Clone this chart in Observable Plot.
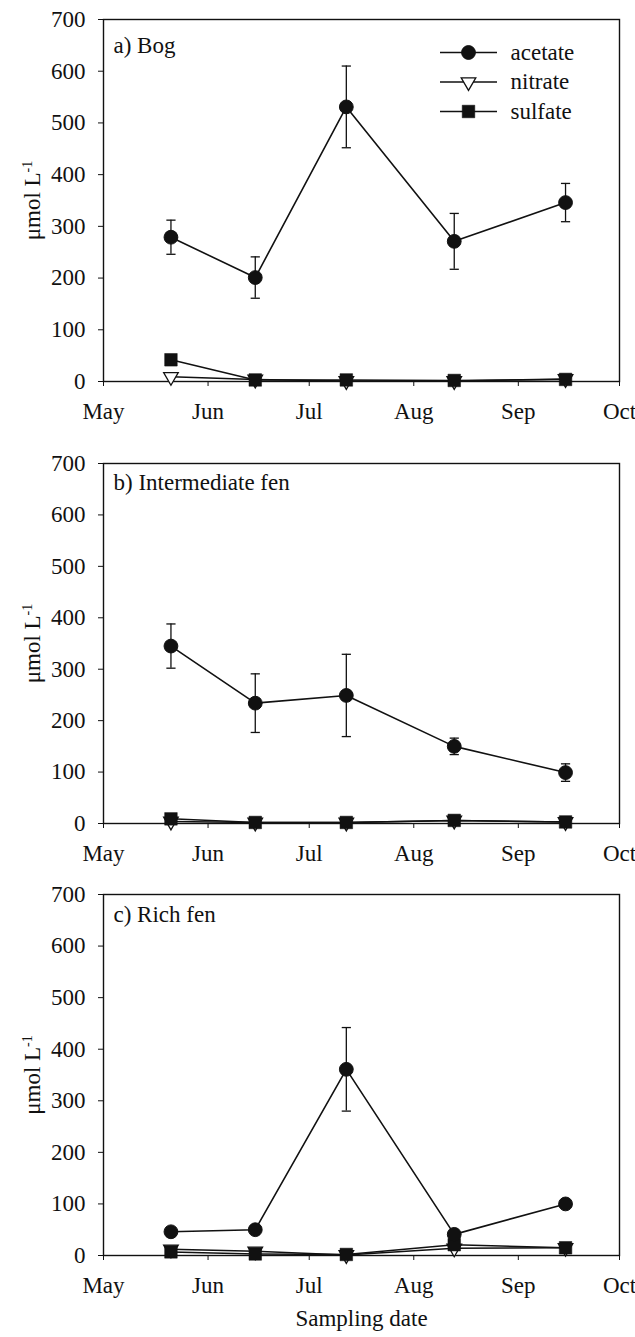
<!DOCTYPE html>
<html><head><meta charset="utf-8">
<script src="https://cdn.jsdelivr.net/npm/d3@7"></script>
<script src="https://cdn.jsdelivr.net/npm/@observablehq/plot@0.6"></script>
<style>
body{margin:0;background:#fff;}
#chart{width:635px;}
#chart svg{display:block;font-family:"Liberation Serif",serif;}
</style></head><body><div id="chart"></div>
<script>
// ---- data ----
const dates = ["2003-05-21","2003-06-15","2003-07-12","2003-08-13","2003-09-15"];
const monthTicks = ["2003-05-01","2003-06-01","2003-07-01","2003-08-01","2003-09-01","2003-10-01"];
const monthLabels = ["May","Jun","Jul","Aug","Sep","Oct"];
const yTicks = [0,100,200,300,400,500,600,700];
const seriesNames = ["acetate","nitrate","sulfate"];
const panelTitles = ["a) Bog","b) Intermediate fen","c) Rich fen"];
const yLabel = "μmol L";
const yLabelSup = "-1";
const xLabel = "Sampling date";

const bogAcetate    = [279, 201, 531, 271, 346];
const bogAcetateErr = [33, 40, 79, 54, 37];
const bogNitrate    = [9, 4, 1, 1, 5];
const bogSulfate    = [42, 3, 3, 2, 4];

const intAcetate    = [345, 234, 249, 150, 99];
const intAcetateErr = [43, 57, 80, 16, 17];
const intNitrate    = [4, 2, 2, 6, 3];
const intSulfate    = [9, 2, 2, 6, 3];

const richAcetate    = [46, 50, 361, 41, 100];
const richAcetateErr = [4, 4, 81, 6, 5];
const richNitrate    = [12, 8, 1, 14, 15];
const richSulfate    = [7, 3, 2, 21, 15];

// ---- symbols ----
const hline = {draw(ctx, size){ const r = Math.sqrt(size/Math.PI); ctx.moveTo(-r,0); ctx.lineTo(r,0); }};
const triDown = {draw(ctx, size){ const r = Math.sqrt(size/Math.PI); const h = r*Math.sqrt(3);
  ctx.moveTo(-r,-h/3); ctx.lineTo(r,-h/3); ctx.lineTo(0,2*h/3); ctx.closePath(); }};
const INK = "#111";
const FONT = "Liberation Serif";
const symStyles = {
  acetate: {symbol: "circle", r: 6.9, fill: INK, stroke: INK, strokeWidth: 1},
  nitrate: {symbol: triDown, r: 7.3, fill: "white", stroke: INK, strokeWidth: 1.3},
  sulfate: {symbol: "square", r: 7.1, fill: INK, stroke: INK, strokeWidth: 0.5}
};

function rows(vals, errs){
  return dates.map((d,i)=>({date: new Date(d), v: vals[i], lo: errs ? vals[i]-errs[i] : null, hi: errs ? vals[i]+errs[i] : null}));
}

function panel(idx, acetate, acetateErr, nitrate, sulfate, layout){
  const ac = rows(acetate, acetateErr), ni = rows(nitrate), su = rows(sulfate);
  const tickDates = monthTicks.map(d=>new Date(d));
  const marks = [
    Plot.axisY({ticks: yTicks, tickSize: 5, tickPadding: 13, label: yLabel, labelAnchor: "center", labelArrow: "none", labelOffset: layout.labelOffset, stroke: INK, fontFamily: FONT}),
    Plot.axisX({ticks: tickDates, tickSize: 5, tickPadding: 16, stroke: INK, fontFamily: FONT,
      tickFormat: d => monthLabels[tickDates.findIndex(t=>+t===+d)],
      label: idx===2 ? xLabel : null, labelAnchor: "center", labelArrow: "none", labelOffset: 70}),
    Plot.frame({stroke: INK, strokeWidth: 1.4}),
    Plot.text([panelTitles[idx]], {frameAnchor: "top-left", dx: 10, dy: layout.titleDy, textAnchor: "start", lineAnchor: "middle", text: d=>d, fill: INK, fontFamily: FONT}),
    Plot.line(ni, {x: "date", y: "v", stroke: INK, strokeWidth: 1.5}),
    Plot.line(su, {x: "date", y: "v", stroke: INK, strokeWidth: 1.5}),
    Plot.line(ac, {x: "date", y: "v", stroke: INK, strokeWidth: 1.6}),
    Plot.ruleX(ac, {x: "date", y1: "lo", y2: "hi", stroke: INK, strokeWidth: 1.3}),
    Plot.dot(ac, {x: "date", y: "lo", symbol: hline, r: 4.6, stroke: INK, strokeWidth: 1.3}),
    Plot.dot(ac, {x: "date", y: "hi", symbol: hline, r: 4.6, stroke: INK, strokeWidth: 1.3}),
    Plot.dot(ni, {x: "date", y: "v", ...symStyles.nitrate}),
    Plot.dot(su, {x: "date", y: "v", ...symStyles.sulfate}),
    Plot.dot(ac, {x: "date", y: "v", ...symStyles.acetate})
  ];
  if (layout.legend){
    seriesNames.forEach((name, i) => {
      const dy = 33 + i*29.5;
      marks.push(
        Plot.dot([name], {frameAnchor: "top-right", dx: -151, dy, symbol: hline, r: 28.5, stroke: INK, strokeWidth: 1.3}),
        Plot.dot([name], {frameAnchor: "top-right", dx: -151, dy, ...symStyles[name]}),
        Plot.text([name], {frameAnchor: "top-right", dx: -109, dy, textAnchor: "start", lineAnchor: "middle", text: d=>d, fill: INK, fontFamily: FONT})
      );
    });
  }
  const svg = Plot.plot({
    width: 635, height: layout.height,
    marginLeft: 103, marginRight: 16, marginTop: layout.mt, marginBottom: layout.mb,
    x: {type: "utc", domain: [tickDates[0], tickDates[tickDates.length-1]]},
    y: {domain: [0, 700]},
    style: {fontFamily: FONT, fontSize: "23px", color: INK, background: "white", overflow: "visible"},
    marks
  });
  // superscript on y label
  const lab = d3.select(svg).select('g[aria-label="y-axis label"] text');
  if (!lab.empty()){
    lab.text(yLabel);
    lab.append("tspan").attr("dy", "-0.55em").attr("font-size", "14px").text(yLabelSup);
  }
  return svg;
}

const chart = document.getElementById("chart");
chart.append(panel(0, bogAcetate, bogAcetateErr, bogNitrate, bogSulfate, {height: 444, mt: 19, mb: 63, titleDy: 26.5, labelOffset: 80, legend: true}));
chart.append(panel(1, intAcetate, intAcetateErr, intNitrate, intSulfate, {height: 431, mt: 19, mb: 52, titleDy: 19.5, labelOffset: 80}));
chart.append(panel(2, richAcetate, richAcetateErr, richNitrate, richSulfate, {height: 462, mt: 19, mb: 82, titleDy: 20, labelOffset: 80}));
</script></body></html>
